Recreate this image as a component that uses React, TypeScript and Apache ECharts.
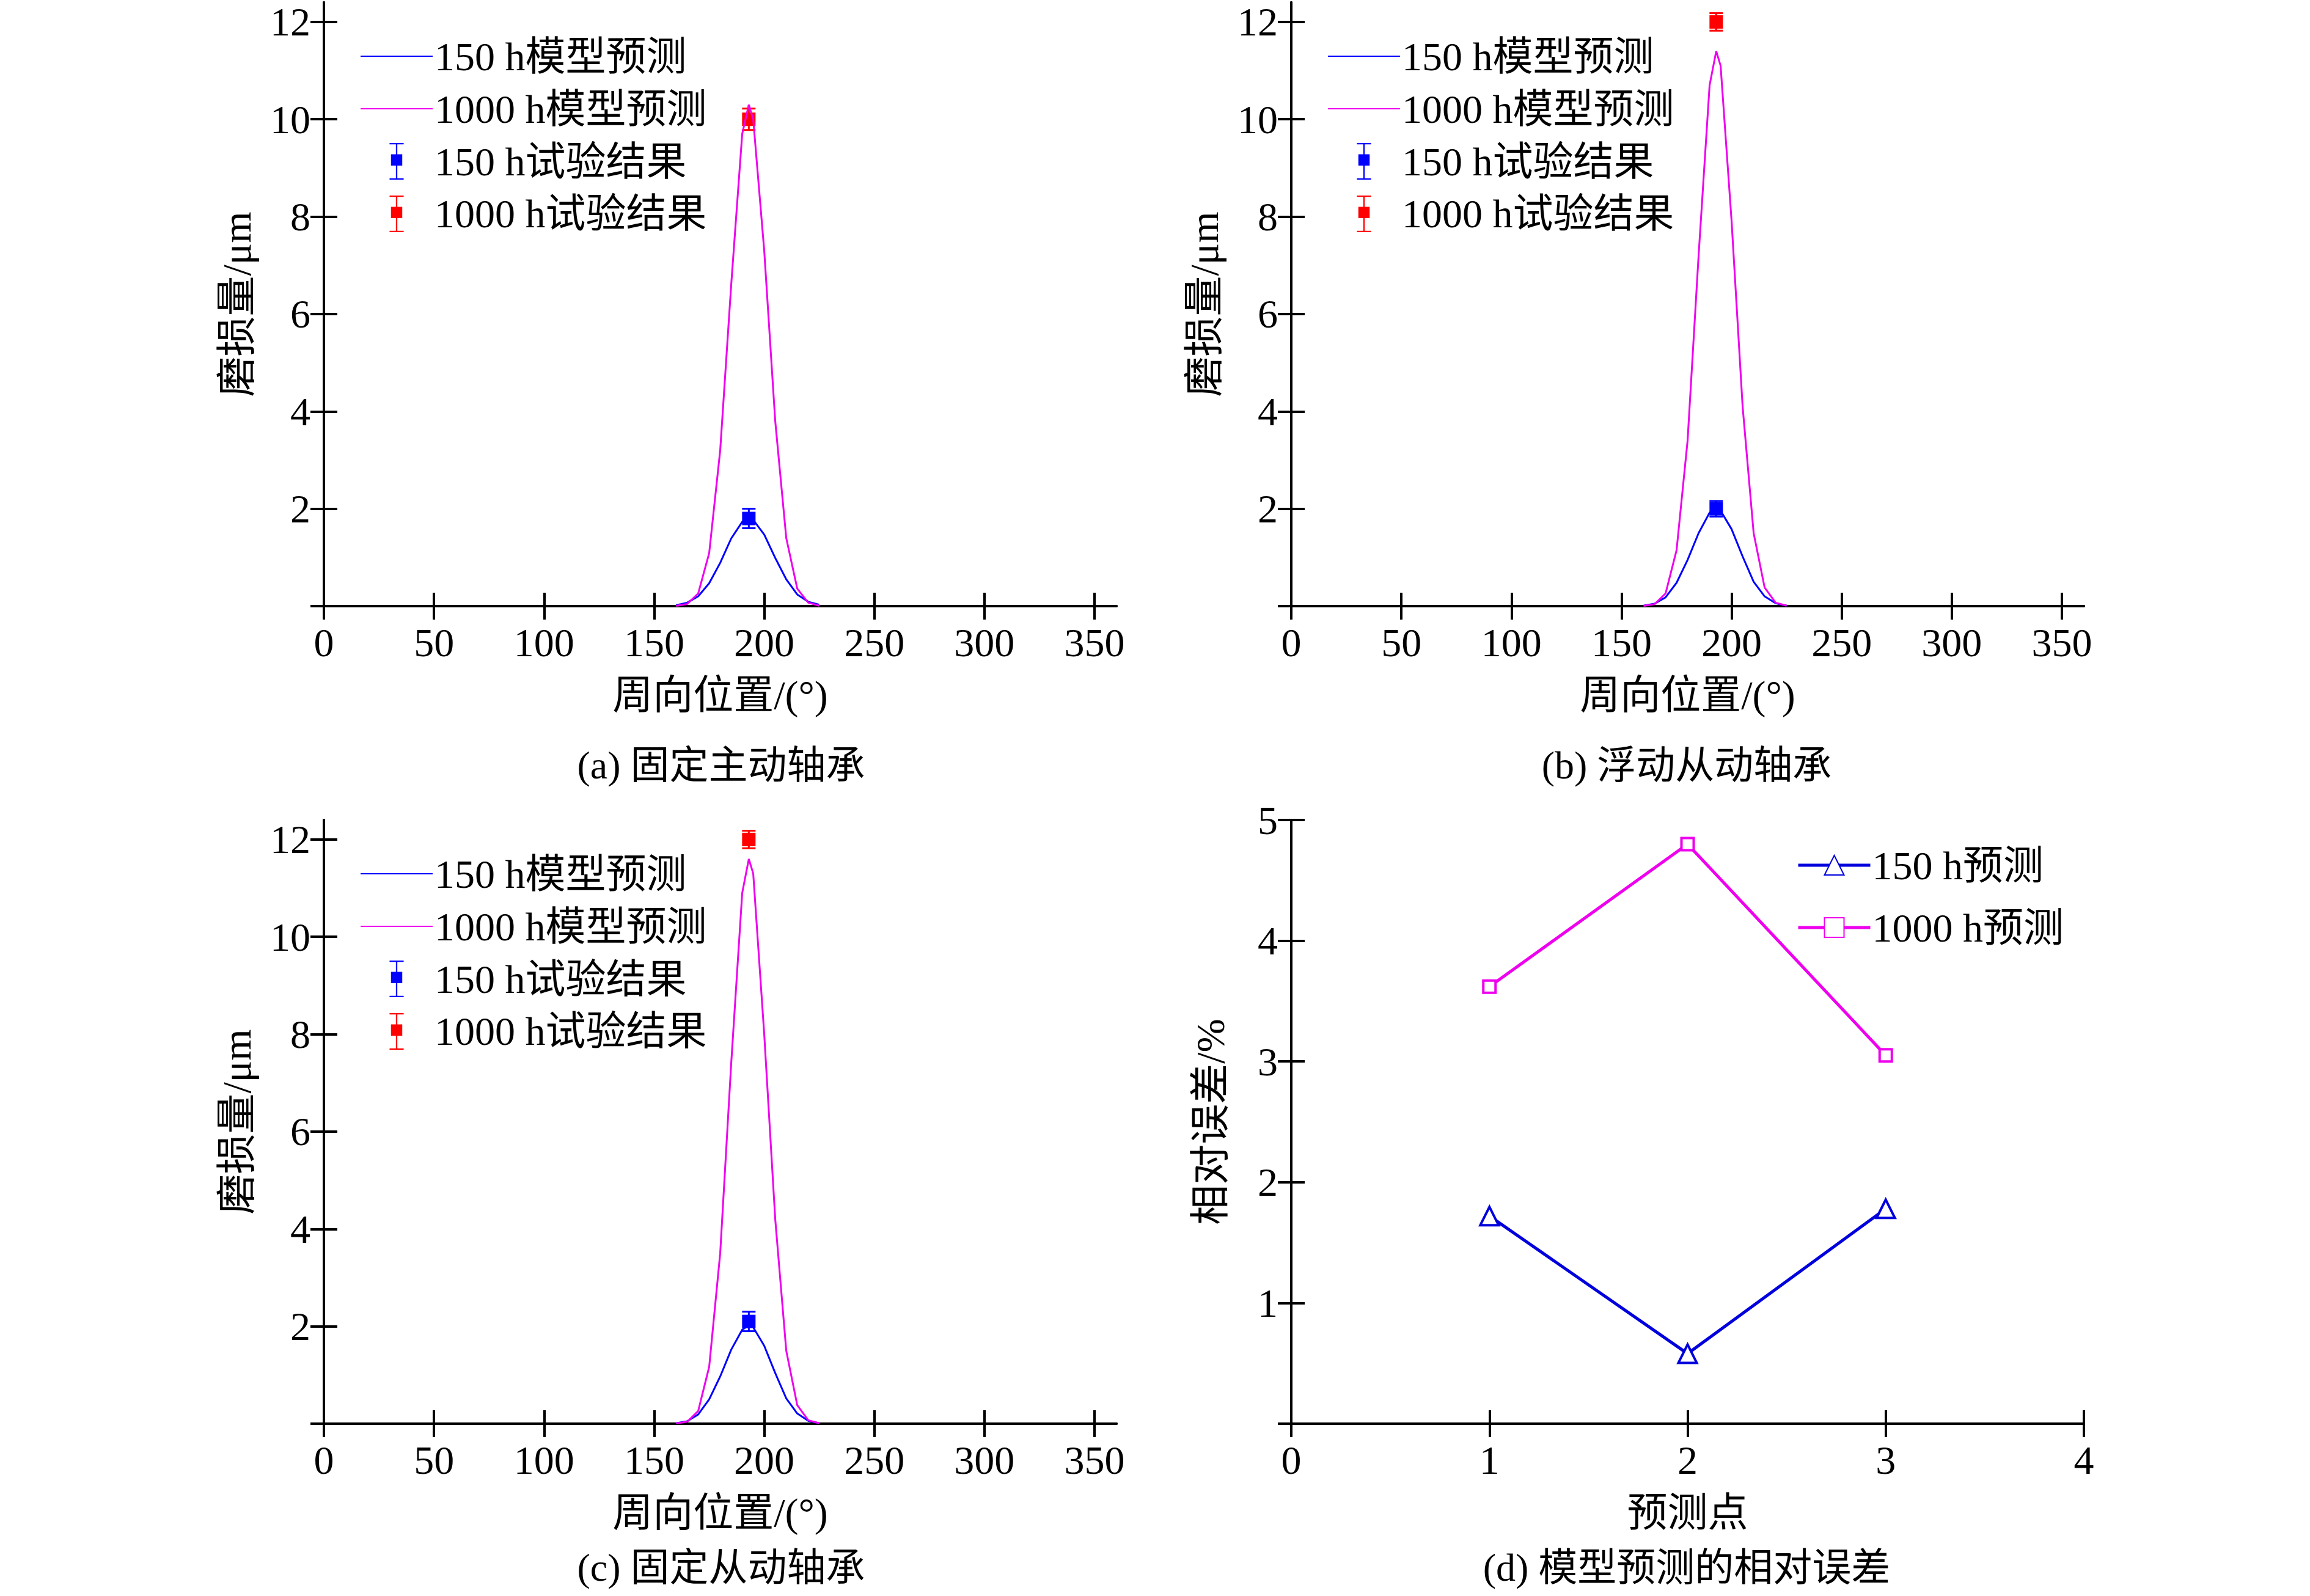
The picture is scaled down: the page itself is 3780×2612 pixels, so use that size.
import { useEffect, useRef } from 'react'
import * as echarts from 'echarts'

const FONT = '"Liberation Serif", "Noto Sans CJK SC", serif'
const BLUE = '#0000ff'
const RED = '#ff0000'
const MAGENTA = '#ee00ee'

// circumferential positions (deg) for the model curves
const angles = [160, 165, 170, 175, 180, 185, 190, 193, 195, 200, 205, 210, 215, 220, 225]

// (a) fixed driving bearing
const a150 = [0.02, 0.07, 0.2, 0.47, 0.89, 1.39, 1.73, 1.8, 1.77, 1.47, 0.99, 0.55, 0.24, 0.09, 0.03]
const a1000 = [0.005, 0.045, 0.26, 1.09, 3.2, 6.6, 9.7, 10.3, 10.0, 7.3, 3.8, 1.4, 0.36, 0.07, 0.01]
// (b) floating driven bearing
const b150 = [0.01, 0.05, 0.18, 0.48, 0.95, 1.5, 1.92, 2.0, 1.96, 1.58, 1.02, 0.5, 0.2, 0.06, 0.01]
const b1000 = [0.005, 0.04, 0.26, 1.15, 3.4, 7.2, 10.7, 11.4, 11.1, 7.9, 4.1, 1.5, 0.38, 0.07, 0.01]
// (c) fixed driven bearing
const c150 = [0.01, 0.05, 0.19, 0.5, 0.97, 1.52, 1.93, 2.02, 1.98, 1.6, 1.04, 0.52, 0.21, 0.06, 0.01]
const c1000 = [0.005, 0.04, 0.26, 1.17, 3.5, 7.4, 10.9, 11.6, 11.3, 8.0, 4.2, 1.5, 0.38, 0.07, 0.01]

// test results [angle, value, error]
const aTest = [[193, 1.8, 0.2], [193, 10.0, 0.22]]
const bTest = [[193, 2.0, 0.16], [193, 12.0, 0.18]]
const cTest = [[193, 2.1, 0.2], [193, 12.0, 0.18]]

// (d) relative error
const points = [1, 2, 3]
const d150 = [1.72, 0.58, 1.78]
const d1000 = [3.62, 4.8, 3.05]

const xTicksDeg = [0, 50, 100, 150, 200, 250, 300, 350]
const yTicksWear = [0, 2, 4, 6, 8, 10, 12]
const xTicksPt = [0, 1, 2, 3, 4]
const yTicksErr = [0, 1, 2, 3, 4, 5]

const captions = ['(a) 固定主动轴承', '(b) 浮动从动轴承', '(c) 固定从动轴承', '(d) 模型预测的相对误差']

const GRIDS = [
  { left: 530, top: 4, width: 1297, height: 988 },
  { left: 2113, top: 4, width: 1297, height: 988 },
  { left: 530, top: 1342, width: 1297, height: 988 },
  { left: 2113, top: 1342, width: 1297, height: 988 },
]

const errIcon = 'path://M0,0H10V1H5.5V8H9V16H5.5V25H10V26H0V25H4.5V16H1V8H4.5V1H0Z'
const lineIcon = 'path://M0,0H60V1H0Z'

const axisLine = { show: true, lineStyle: { color: '#000', width: 4 } }
const label = { color: '#000', fontFamily: FONT, fontSize: 66 }

export default function App() {
  const ref = useRef<HTMLDivElement>(null)

  useEffect(() => {
    document.body.style.margin = '0'
    if (!ref.current) return
    const chart = echarts.init(ref.current, null, { renderer: 'svg' })

    const xAxis: any[] = []
    const yAxis: any[] = []
    const series: any[] = []
    const legend: any[] = []

    GRIDS.forEach((_, g) => {
      const isD = g === 3
      const xt = isD ? xTicksPt : xTicksDeg
      const yt = isD ? yTicksErr : yTicksWear
      const xMax = isD ? 4 : 360
      const yMax = isD ? 5 : 12.4
      const tick = (vals: number[]) => ({
        show: true, inside: true, length: 22, customValues: vals,
        lineStyle: { color: '#000', width: 4 },
      })
      const base = { gridIndex: g, type: 'value', min: 0, axisLine, splitLine: { show: false } }
      xAxis.push({
        ...base, max: xMax, axisTick: tick(xt),
        axisLabel: { ...label, margin: 26, customValues: xt },
        name: isD ? '预测点' : '周向位置/(°)',
        nameLocation: 'middle', nameGap: 112,
        nameTextStyle: { ...label, fontSize: 66 },
      })
      xAxis.push({ ...base, position: 'top', max: xMax, axisTick: tick(xt), axisLabel: { show: false } })
      yAxis.push({
        ...base, max: yMax, axisTick: tick(yt),
        axisLabel: { ...label, margin: 22, customValues: yt.filter(v => v !== 0) },
        name: isD ? '相对误差/%' : '磨损量/μm',
        nameLocation: 'middle', nameGap: isD ? 100 : 110,
        nameTextStyle: { ...label, fontSize: 66 },
      })
      yAxis.push({ ...base, position: 'right', max: yMax, axisTick: tick(yt), axisLabel: { show: false } })
    })

    const curves = [
      [a150, a1000, aTest],
      [b150, b1000, bTest],
      [c150, c1000, cTest],
    ]
    curves.forEach(([s150, s1000, test], g) => {
      const ax = { xAxisIndex: g * 2, yAxisIndex: g * 2 }
      series.push({
        ...ax, name: '150 h模型预测', type: 'line', symbol: 'none',
        lineStyle: { color: BLUE, width: 3 }, itemStyle: { color: BLUE },
        data: angles.map((x, i) => [x, (s150 as number[])[i]]),
      })
      series.push({
        ...ax, name: '1000 h模型预测', type: 'line', symbol: 'none',
        lineStyle: { color: MAGENTA, width: 3 }, itemStyle: { color: MAGENTA },
        data: angles.map((x, i) => [x, (s1000 as number[])[i]]),
      })
      const t = test as number[][]
      ;[['150 h试验结果', BLUE, t[0]], ['1000 h试验结果', RED, t[1]]].forEach(([name, color, p]: any) => {
        series.push({
          ...ax, name, type: 'custom', itemStyle: { color },
          data: [p],
          renderItem: (_params: any, api: any) => {
            const x = api.value(0), y = api.value(1), e = api.value(2)
            const top = api.coord([x, y + e]), bot = api.coord([x, y - e]), c = api.coord([x, y])
            const st = { stroke: color, lineWidth: 3 }
            return {
              type: 'group',
              children: [
                { type: 'line', shape: { x1: top[0], y1: top[1], x2: bot[0], y2: bot[1] }, style: st },
                { type: 'line', shape: { x1: top[0] - 11, y1: top[1], x2: top[0] + 11, y2: top[1] }, style: st },
                { type: 'line', shape: { x1: bot[0] - 11, y1: bot[1], x2: bot[0] + 11, y2: bot[1] }, style: st },
                { type: 'rect', shape: { x: c[0] - 11, y: c[1] - 11, width: 22, height: 22 }, style: { fill: color } },
              ],
            }
          },
        })
      })
      legend.push({
        left: GRIDS[g].left + 55, top: GRIDS[g].top + 50, orient: 'vertical',
        itemWidth: 118, itemHeight: 60, itemGap: 20,
        textStyle: { ...label, padding: [0, 0, 0, -2] },
        data: [
          { name: '150 h模型预测', icon: lineIcon, itemStyle: { color: BLUE } },
          { name: '1000 h模型预测', icon: lineIcon, itemStyle: { color: MAGENTA } },
          { name: '150 h试验结果', icon: errIcon, itemStyle: { color: BLUE } },
          { name: '1000 h试验结果', icon: errIcon, itemStyle: { color: RED } },
        ],
      })
    })

    const dx = { xAxisIndex: 6, yAxisIndex: 6 }
    series.push({
      ...dx, name: '150 h预测', type: 'line', symbol: 'triangle', symbolSize: 30,
      lineStyle: { color: '#0000dd', width: 5 },
      itemStyle: { color: '#fff', borderColor: '#0000dd', borderWidth: 4 },
      data: points.map((p, i) => [p, d150[i]]),
    })
    series.push({
      ...dx, name: '1000 h预测', type: 'line', symbol: 'rect', symbolSize: 20,
      lineStyle: { color: MAGENTA, width: 5 },
      itemStyle: { color: '#fff', borderColor: MAGENTA, borderWidth: 4 },
      data: points.map((p, i) => [p, d1000[i]]),
    })
    legend.push({
      left: 2935, top: 1378, orient: 'vertical', itemWidth: 118, itemHeight: 40, itemGap: 36,
      textStyle: { ...label, padding: [0, 0, 0, -2] },
      lineStyle: { width: 5 },
      data: ['150 h预测', '1000 h预测'],
    })

    const capPos = [[1180, 1252], [2760, 1252], [1180, 2565], [2760, 2565]]

    chart.setOption({
      animation: false,
      backgroundColor: '#fff',
      grid: GRIDS,
      xAxis,
      yAxis,
      series,
      legend,
      graphic: captions.map((text, i) => ({
        type: 'text', x: capPos[i][0], y: capPos[i][1],
        style: { text, fill: '#000', font: `64px ${FONT}`, align: 'center', verticalAlign: 'middle' },
      })),
    })
    return () => chart.dispose()
  }, [])

  return <div ref={ref} style={{ width: 3780, height: 2612 }} />
}
